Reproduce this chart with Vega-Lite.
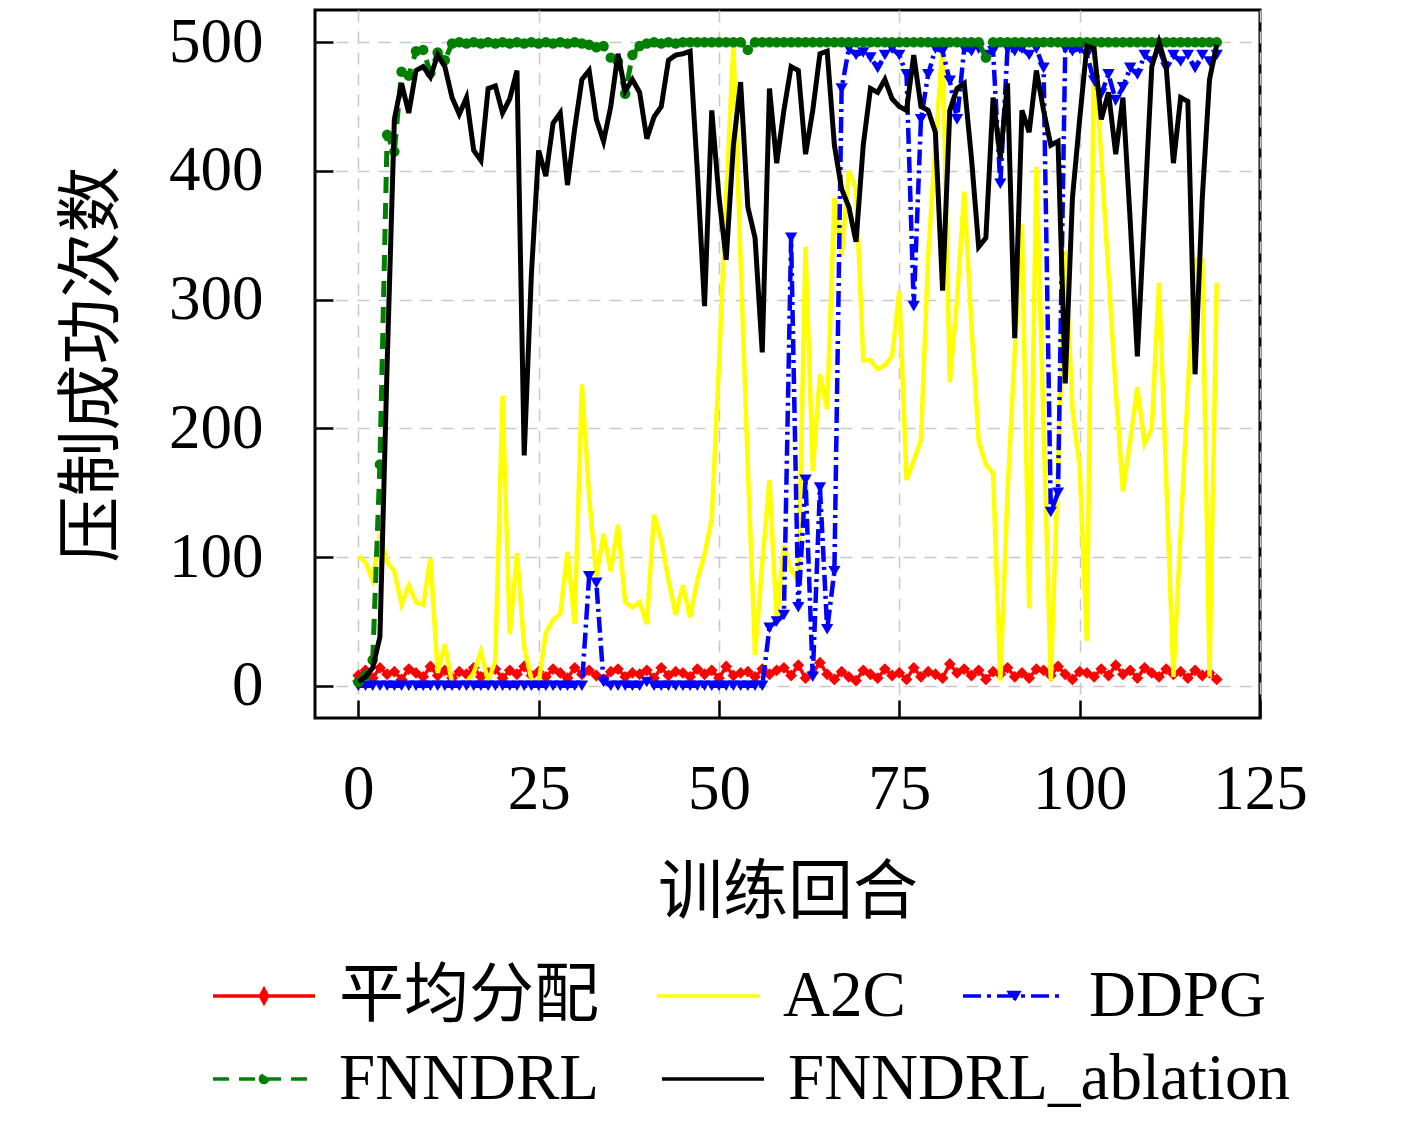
{
  "$schema": "https://vega.github.io/schema/vega-lite/v6.json",
  "width": 945,
  "height": 708,
  "autosize": {"type": "none"},
  "padding": {"left": 315, "top": 10, "right": 157, "bottom": 404},
  "background": "white",
  "config": {
    "font": "Liberation Serif, Noto Sans CJK SC",
    "view": {"stroke": "black", "strokeWidth": 3}
  },
  "data": {"values": [
    {"ep":0,"平均分配":8,"A2C":101,"DDPG":0,"FNNDRL":3,"FNNDRL_ablation":3},
    {"ep":1,"平均分配":12,"A2C":96,"DDPG":0,"FNNDRL":8,"FNNDRL_ablation":7},
    {"ep":2,"平均分配":6,"A2C":82,"DDPG":0,"FNNDRL":20,"FNNDRL_ablation":14},
    {"ep":3,"平均分配":14,"A2C":118,"DDPG":0,"FNNDRL":172,"FNNDRL_ablation":38},
    {"ep":4,"平均分配":9,"A2C":96,"DDPG":0,"FNNDRL":428,"FNNDRL_ablation":250},
    {"ep":5,"平均分配":11,"A2C":89,"DDPG":0,"FNNDRL":415,"FNNDRL_ablation":440},
    {"ep":6,"平均分配":5,"A2C":63,"DDPG":0,"FNNDRL":477,"FNNDRL_ablation":468},
    {"ep":7,"平均分配":13,"A2C":78,"DDPG":0,"FNNDRL":474,"FNNDRL_ablation":445},
    {"ep":8,"平均分配":10,"A2C":65,"DDPG":0,"FNNDRL":493,"FNNDRL_ablation":478},
    {"ep":9,"平均分配":7,"A2C":63,"DDPG":0,"FNNDRL":494,"FNNDRL_ablation":481},
    {"ep":10,"平均分配":15,"A2C":99,"DDPG":0,"FNNDRL":476,"FNNDRL_ablation":473},
    {"ep":11,"平均分配":8,"A2C":10,"DDPG":0,"FNNDRL":492,"FNNDRL_ablation":490},
    {"ep":12,"平均分配":12,"A2C":32,"DDPG":0,"FNNDRL":486,"FNNDRL_ablation":481},
    {"ep":13,"平均分配":6,"A2C":2,"DDPG":0,"FNNDRL":499,"FNNDRL_ablation":457},
    {"ep":14,"平均分配":11,"A2C":2,"DDPG":0,"FNNDRL":500,"FNNDRL_ablation":444},
    {"ep":15,"平均分配":9,"A2C":3,"DDPG":0,"FNNDRL":499,"FNNDRL_ablation":457},
    {"ep":16,"平均分配":14,"A2C":10,"DDPG":0,"FNNDRL":500,"FNNDRL_ablation":416},
    {"ep":17,"平均分配":7,"A2C":27,"DDPG":0,"FNNDRL":499,"FNNDRL_ablation":408},
    {"ep":18,"平均分配":10,"A2C":3,"DDPG":0,"FNNDRL":500,"FNNDRL_ablation":464},
    {"ep":19,"平均分配":13,"A2C":20,"DDPG":0,"FNNDRL":499,"FNNDRL_ablation":466},
    {"ep":20,"平均分配":6,"A2C":225,"DDPG":0,"FNNDRL":500,"FNNDRL_ablation":445},
    {"ep":21,"平均分配":12,"A2C":40,"DDPG":0,"FNNDRL":499,"FNNDRL_ablation":456},
    {"ep":22,"平均分配":9,"A2C":103,"DDPG":0,"FNNDRL":500,"FNNDRL_ablation":478},
    {"ep":23,"平均分配":15,"A2C":30,"DDPG":0,"FNNDRL":499,"FNNDRL_ablation":179},
    {"ep":24,"平均分配":8,"A2C":5,"DDPG":0,"FNNDRL":500,"FNNDRL_ablation":320},
    {"ep":25,"平均分配":11,"A2C":2,"DDPG":0,"FNNDRL":499,"FNNDRL_ablation":416},
    {"ep":26,"平均分配":7,"A2C":41,"DDPG":0,"FNNDRL":500,"FNNDRL_ablation":396},
    {"ep":27,"平均分配":13,"A2C":51,"DDPG":0,"FNNDRL":499,"FNNDRL_ablation":437},
    {"ep":28,"平均分配":10,"A2C":56,"DDPG":0,"FNNDRL":500,"FNNDRL_ablation":445},
    {"ep":29,"平均分配":6,"A2C":104,"DDPG":0,"FNNDRL":499,"FNNDRL_ablation":389},
    {"ep":30,"平均分配":14,"A2C":48,"DDPG":0,"FNNDRL":500,"FNNDRL_ablation":433},
    {"ep":31,"平均分配":9,"A2C":234,"DDPG":0,"FNNDRL":499,"FNNDRL_ablation":471},
    {"ep":32,"平均分配":12,"A2C":147,"DDPG":85,"FNNDRL":498,"FNNDRL_ablation":478},
    {"ep":33,"平均分配":8,"A2C":85,"DDPG":80,"FNNDRL":496,"FNNDRL_ablation":440},
    {"ep":34,"平均分配":5,"A2C":118,"DDPG":3,"FNNDRL":497,"FNNDRL_ablation":423},
    {"ep":35,"平均分配":11,"A2C":89,"DDPG":0,"FNNDRL":488,"FNNDRL_ablation":450},
    {"ep":36,"平均分配":13,"A2C":125,"DDPG":0,"FNNDRL":485,"FNNDRL_ablation":491},
    {"ep":37,"平均分配":7,"A2C":65,"DDPG":0,"FNNDRL":460,"FNNDRL_ablation":462},
    {"ep":38,"平均分配":10,"A2C":61,"DDPG":0,"FNNDRL":490,"FNNDRL_ablation":471},
    {"ep":39,"平均分配":9,"A2C":65,"DDPG":0,"FNNDRL":497,"FNNDRL_ablation":461},
    {"ep":40,"平均分配":12,"A2C":48,"DDPG":3,"FNNDRL":499,"FNNDRL_ablation":425},
    {"ep":41,"平均分配":6,"A2C":133,"DDPG":0,"FNNDRL":500,"FNNDRL_ablation":442},
    {"ep":42,"平均分配":14,"A2C":113,"DDPG":0,"FNNDRL":499,"FNNDRL_ablation":450},
    {"ep":43,"平均分配":8,"A2C":82,"DDPG":0,"FNNDRL":500,"FNNDRL_ablation":486},
    {"ep":44,"平均分配":11,"A2C":55,"DDPG":0,"FNNDRL":499,"FNNDRL_ablation":490},
    {"ep":45,"平均分配":10,"A2C":78,"DDPG":0,"FNNDRL":500,"FNNDRL_ablation":491},
    {"ep":46,"平均分配":7,"A2C":53,"DDPG":0,"FNNDRL":500,"FNNDRL_ablation":493},
    {"ep":47,"平均分配":13,"A2C":82,"DDPG":0,"FNNDRL":500,"FNNDRL_ablation":400},
    {"ep":48,"平均分配":9,"A2C":102,"DDPG":0,"FNNDRL":500,"FNNDRL_ablation":295},
    {"ep":49,"平均分配":12,"A2C":130,"DDPG":0,"FNNDRL":500,"FNNDRL_ablation":447},
    {"ep":50,"平均分配":6,"A2C":250,"DDPG":0,"FNNDRL":500,"FNNDRL_ablation":380},
    {"ep":51,"平均分配":15,"A2C":380,"DDPG":0,"FNNDRL":500,"FNNDRL_ablation":331},
    {"ep":52,"平均分配":8,"A2C":498,"DDPG":0,"FNNDRL":500,"FNNDRL_ablation":420},
    {"ep":53,"平均分配":10,"A2C":330,"DDPG":0,"FNNDRL":500,"FNNDRL_ablation":469},
    {"ep":54,"平均分配":11,"A2C":170,"DDPG":0,"FNNDRL":494,"FNNDRL_ablation":372},
    {"ep":55,"平均分配":7,"A2C":24,"DDPG":0,"FNNDRL":500,"FNNDRL_ablation":348},
    {"ep":56,"平均分配":13,"A2C":95,"DDPG":0,"FNNDRL":500,"FNNDRL_ablation":259},
    {"ep":57,"平均分配":9,"A2C":160,"DDPG":45,"FNNDRL":500,"FNNDRL_ablation":464},
    {"ep":58,"平均分配":12,"A2C":51,"DDPG":50,"FNNDRL":500,"FNNDRL_ablation":406},
    {"ep":59,"平均分配":14,"A2C":109,"DDPG":55,"FNNDRL":500,"FNNDRL_ablation":447},
    {"ep":60,"平均分配":8,"A2C":90,"DDPG":348,"FNNDRL":500,"FNNDRL_ablation":481},
    {"ep":61,"平均分配":16,"A2C":82,"DDPG":61,"FNNDRL":500,"FNNDRL_ablation":478},
    {"ep":62,"平均分配":6,"A2C":341,"DDPG":160,"FNNDRL":500,"FNNDRL_ablation":413},
    {"ep":63,"平均分配":10,"A2C":167,"DDPG":7,"FNNDRL":500,"FNNDRL_ablation":447},
    {"ep":64,"平均分配":18,"A2C":242,"DDPG":154,"FNNDRL":500,"FNNDRL_ablation":491},
    {"ep":65,"平均分配":9,"A2C":215,"DDPG":44,"FNNDRL":500,"FNNDRL_ablation":493},
    {"ep":66,"平均分配":5,"A2C":379,"DDPG":89,"FNNDRL":500,"FNNDRL_ablation":420},
    {"ep":67,"平均分配":11,"A2C":334,"DDPG":464,"FNNDRL":500,"FNNDRL_ablation":386},
    {"ep":68,"平均分配":7,"A2C":400,"DDPG":495,"FNNDRL":500,"FNNDRL_ablation":372},
    {"ep":69,"平均分配":4,"A2C":386,"DDPG":490,"FNNDRL":500,"FNNDRL_ablation":345},
    {"ep":70,"平均分配":12,"A2C":253,"DDPG":492,"FNNDRL":500,"FNNDRL_ablation":420},
    {"ep":71,"平均分配":9,"A2C":253,"DDPG":488,"FNNDRL":500,"FNNDRL_ablation":464},
    {"ep":72,"平均分配":6,"A2C":246,"DDPG":480,"FNNDRL":500,"FNNDRL_ablation":461},
    {"ep":73,"平均分配":13,"A2C":249,"DDPG":490,"FNNDRL":500,"FNNDRL_ablation":471},
    {"ep":74,"平均分配":8,"A2C":256,"DDPG":495,"FNNDRL":500,"FNNDRL_ablation":456},
    {"ep":75,"平均分配":10,"A2C":307,"DDPG":490,"FNNDRL":500,"FNNDRL_ablation":450},
    {"ep":76,"平均分配":5,"A2C":160,"DDPG":475,"FNNDRL":500,"FNNDRL_ablation":447},
    {"ep":77,"平均分配":14,"A2C":175,"DDPG":295,"FNNDRL":500,"FNNDRL_ablation":490},
    {"ep":78,"平均分配":7,"A2C":191,"DDPG":440,"FNNDRL":500,"FNNDRL_ablation":450},
    {"ep":79,"平均分配":11,"A2C":334,"DDPG":475,"FNNDRL":500,"FNNDRL_ablation":447},
    {"ep":80,"平均分配":9,"A2C":420,"DDPG":495,"FNNDRL":500,"FNNDRL_ablation":430},
    {"ep":81,"平均分配":6,"A2C":498,"DDPG":493,"FNNDRL":500,"FNNDRL_ablation":307},
    {"ep":82,"平均分配":17,"A2C":236,"DDPG":470,"FNNDRL":500,"FNNDRL_ablation":447},
    {"ep":83,"平均分配":10,"A2C":300,"DDPG":440,"FNNDRL":500,"FNNDRL_ablation":464},
    {"ep":84,"平均分配":13,"A2C":384,"DDPG":495,"FNNDRL":500,"FNNDRL_ablation":468},
    {"ep":85,"平均分配":8,"A2C":280,"DDPG":493,"FNNDRL":500,"FNNDRL_ablation":410},
    {"ep":86,"平均分配":12,"A2C":190,"DDPG":495,"FNNDRL":500,"FNNDRL_ablation":341},
    {"ep":87,"平均分配":5,"A2C":172,"DDPG":490,"FNNDRL":488,"FNNDRL_ablation":348},
    {"ep":88,"平均分配":11,"A2C":165,"DDPG":493,"FNNDRL":500,"FNNDRL_ablation":457},
    {"ep":89,"平均分配":9,"A2C":4,"DDPG":390,"FNNDRL":500,"FNNDRL_ablation":410},
    {"ep":90,"平均分配":14,"A2C":150,"DDPG":495,"FNNDRL":500,"FNNDRL_ablation":468},
    {"ep":91,"平均分配":7,"A2C":260,"DDPG":493,"FNNDRL":500,"FNNDRL_ablation":270},
    {"ep":92,"平均分配":10,"A2C":359,"DDPG":495,"FNNDRL":500,"FNNDRL_ablation":447},
    {"ep":93,"平均分配":6,"A2C":60,"DDPG":490,"FNNDRL":500,"FNNDRL_ablation":430},
    {"ep":94,"平均分配":13,"A2C":403,"DDPG":495,"FNNDRL":500,"FNNDRL_ablation":478},
    {"ep":95,"平均分配":12,"A2C":200,"DDPG":480,"FNNDRL":500,"FNNDRL_ablation":447},
    {"ep":96,"平均分配":8,"A2C":4,"DDPG":135,"FNNDRL":500,"FNNDRL_ablation":420},
    {"ep":97,"平均分配":15,"A2C":170,"DDPG":150,"FNNDRL":500,"FNNDRL_ablation":423},
    {"ep":98,"平均分配":9,"A2C":338,"DDPG":495,"FNNDRL":500,"FNNDRL_ablation":235},
    {"ep":99,"平均分配":5,"A2C":215,"DDPG":493,"FNNDRL":500,"FNNDRL_ablation":379},
    {"ep":100,"平均分配":11,"A2C":170,"DDPG":495,"FNNDRL":500,"FNNDRL_ablation":440},
    {"ep":101,"平均分配":10,"A2C":35,"DDPG":490,"FNNDRL":500,"FNNDRL_ablation":497},
    {"ep":102,"平均分配":7,"A2C":498,"DDPG":470,"FNNDRL":500,"FNNDRL_ablation":495},
    {"ep":103,"平均分配":13,"A2C":410,"DDPG":460,"FNNDRL":500,"FNNDRL_ablation":440},
    {"ep":104,"平均分配":8,"A2C":320,"DDPG":475,"FNNDRL":500,"FNNDRL_ablation":461},
    {"ep":105,"平均分配":16,"A2C":230,"DDPG":455,"FNNDRL":500,"FNNDRL_ablation":413},
    {"ep":106,"平均分配":9,"A2C":151,"DDPG":465,"FNNDRL":500,"FNNDRL_ablation":457},
    {"ep":107,"平均分配":12,"A2C":190,"DDPG":480,"FNNDRL":500,"FNNDRL_ablation":362},
    {"ep":108,"平均分配":6,"A2C":232,"DDPG":475,"FNNDRL":500,"FNNDRL_ablation":256},
    {"ep":109,"平均分配":14,"A2C":188,"DDPG":490,"FNNDRL":500,"FNNDRL_ablation":368},
    {"ep":110,"平均分配":10,"A2C":200,"DDPG":485,"FNNDRL":500,"FNNDRL_ablation":481},
    {"ep":111,"平均分配":7,"A2C":313,"DDPG":495,"FNNDRL":500,"FNNDRL_ablation":500},
    {"ep":112,"平均分配":13,"A2C":160,"DDPG":480,"FNNDRL":500,"FNNDRL_ablation":481},
    {"ep":113,"平均分配":9,"A2C":7,"DDPG":490,"FNNDRL":500,"FNNDRL_ablation":406},
    {"ep":114,"平均分配":11,"A2C":120,"DDPG":485,"FNNDRL":500,"FNNDRL_ablation":457},
    {"ep":115,"平均分配":6,"A2C":230,"DDPG":490,"FNNDRL":500,"FNNDRL_ablation":454},
    {"ep":116,"平均分配":12,"A2C":331,"DDPG":480,"FNNDRL":500,"FNNDRL_ablation":242},
    {"ep":117,"平均分配":8,"A2C":331,"DDPG":490,"FNNDRL":500,"FNNDRL_ablation":379},
    {"ep":118,"平均分配":10,"A2C":7,"DDPG":485,"FNNDRL":500,"FNNDRL_ablation":471},
    {"ep":119,"平均分配":5,"A2C":313,"DDPG":490,"FNNDRL":500,"FNNDRL_ablation":498}
  ]},
  "transform": [
    {"fold": ["平均分配", "A2C", "DDPG", "FNNDRL", "FNNDRL_ablation"], "as": ["series", "v"]}
  ],
  "encoding": {
    "x": {
      "field": "ep", "type": "quantitative",
      "scale": {"domain": [-6, 125], "nice": false, "zero": false},
      "axis": {
        "values": [0, 25, 50, 75, 100, 125],
        "title": "训练回合",
        "domain": false,
        "grid": true, "gridDash": [12, 9], "gridColor": "#c8c8c8", "gridWidth": 1.5,
        "tickSize": -18, "tickWidth": 2.5, "tickColor": "black",
        "labelFontSize": 63, "labelColor": "black", "labelPadding": 58,
        "labelFlush": false, "labelOverlap": false, "labelBound": false,
        "titleFontSize": 65, "titleFontWeight": "normal", "titleColor": "black", "titlePadding": 40
      }
    },
    "y": {
      "field": "v", "type": "quantitative",
      "scale": {"domain": [-25, 525], "nice": false, "zero": false},
      "axis": {
        "values": [0, 100, 200, 300, 400, 500],
        "title": "压制成功次数",
        "domain": false,
        "grid": true, "gridDash": [12, 9], "gridColor": "#c8c8c8", "gridWidth": 1.5,
        "tickSize": -18, "tickWidth": 2.5, "tickColor": "black",
        "labelFontSize": 63, "labelColor": "black", "labelPadding": 70,
        "labelOverlap": false, "labelFlush": false,
        "titleFontSize": 66, "titleFontWeight": "normal", "titleColor": "black", "titlePadding": 42
      }
    },
    "color": {
      "field": "series", "type": "nominal",
      "scale": {
        "domain": ["平均分配", "A2C", "DDPG", "FNNDRL", "FNNDRL_ablation"],
        "range": ["#ff0000", "#ffff00", "#0000ff", "#008000", "#000000"]
      },
      "legend": {
        "title": null,
        "values": ["平均分配", "A2C", "DDPG"],
        "orient": "none",
        "legendX": -104,
        "legendY": 933,
        "direction": "horizontal",
        "columns": 3,
        "columnPadding": 50,
        "padding": 0,
        "labelFontSize": 65,
        "labelColor": "black",
        "labelLimit": 1000,
        "labelOffset": 22,
        "symbolSize": 10404,
        "symbolStrokeWidth": 3.5,
        "encode": {
          "symbols": {
            "update": {
              "shape": {"signal": "datum.value === '平均分配' ? 'M-1,0L1,0M0,-0.13L0.07,0L0,0.13L-0.07,0Z' : datum.value === 'DDPG' ? 'M-1,0L1,0M-0.09,-0.07L0.09,-0.07L0,0.09Z' : datum.value === 'FNNDRL' ? 'M-1,0L1,0M0.07,0A0.07,0.07,0,1,1,-0.07,0A0.07,0.07,0,1,1,0.07,0Z' : 'M-1,0L1,0'"},
              "stroke": {"signal": "datum.value === '平均分配' ? '#ff0000' : datum.value === 'A2C' ? '#ffff00' : datum.value === 'DDPG' ? '#0000ff' : datum.value === 'FNNDRL' ? '#008000' : '#000000'"},
              "fill": {"signal": "datum.value === '平均分配' ? '#ff0000' : datum.value === 'DDPG' ? '#0000ff' : datum.value === 'FNNDRL' ? '#008000' : 'transparent'"},
              "fillOpacity": {"value": 1},
              "strokeOpacity": {"value": 1},
              "strokeDash": {"signal": "datum.value === 'FNNDRL' ? [18, 11] : datum.value === 'DDPG' ? [18, 6, 4, 6] : [1, 0]"},
              "strokeWidth": {"value": 3.5}
            }
          }
        }
      }
    },
    "strokeDash": {
      "field": "series", "type": "nominal",
      "scale": {
        "domain": ["FNNDRL", "FNNDRL_ablation", "平均分配", "A2C", "DDPG"],
        "range": [[16, 10], [1, 0], [1, 0], [1, 0], [16, 5, 3, 5]]
      },
      "legend": {
        "title": null,
        "values": ["FNNDRL", "FNNDRL_ablation"],
        "orient": "none",
        "legendX": -104,
        "legendY": 1016,
        "direction": "horizontal",
        "columns": 2,
        "columnPadding": 55,
        "padding": 0,
        "labelFontSize": 65,
        "labelColor": "black",
        "labelLimit": 1000,
        "labelOffset": 22,
        "symbolSize": 10404,
        "symbolStrokeWidth": 3.5,
        "encode": {
          "symbols": {
            "update": {
              "shape": {"signal": "datum.value === '平均分配' ? 'M-1,0L1,0M0,-0.13L0.07,0L0,0.13L-0.07,0Z' : datum.value === 'DDPG' ? 'M-1,0L1,0M-0.09,-0.07L0.09,-0.07L0,0.09Z' : datum.value === 'FNNDRL' ? 'M-1,0L1,0M0.07,0A0.07,0.07,0,1,1,-0.07,0A0.07,0.07,0,1,1,0.07,0Z' : 'M-1,0L1,0'"},
              "stroke": {"signal": "datum.value === '平均分配' ? '#ff0000' : datum.value === 'A2C' ? '#ffff00' : datum.value === 'DDPG' ? '#0000ff' : datum.value === 'FNNDRL' ? '#008000' : '#000000'"},
              "fill": {"signal": "datum.value === '平均分配' ? '#ff0000' : datum.value === 'DDPG' ? '#0000ff' : datum.value === 'FNNDRL' ? '#008000' : 'transparent'"},
              "fillOpacity": {"value": 1},
              "strokeOpacity": {"value": 1},
              "strokeDash": {"signal": "datum.value === 'FNNDRL' ? [18, 11] : datum.value === 'DDPG' ? [18, 6, 4, 6] : [1, 0]"},
              "strokeWidth": {"value": 3.5}
            }
          }
        }
      }
    }
  },
  "layer": [
    {
      "transform": [{"filter": "datum.series === '平均分配'"}],
      "mark": {"type": "line", "strokeWidth": 3.5}
    },
    {
      "transform": [{"filter": "datum.series === '平均分配'"}],
      "mark": {"type": "point", "filled": true, "shape": "diamond", "size": 140, "opacity": 1},
      "encoding": {"color": {"value": "#ff0000"}, "strokeDash": {"value": [1, 0]}}
    },
    {
      "transform": [{"filter": "datum.series === 'A2C'"}],
      "mark": {"type": "line", "strokeWidth": 4.5}
    },
    {
      "transform": [{"filter": "datum.series === 'DDPG'"}],
      "mark": {"type": "line", "strokeWidth": 4.5}
    },
    {
      "transform": [{"filter": "datum.series === 'DDPG'"}],
      "mark": {"type": "point", "filled": true, "shape": "triangle-down", "size": 150, "opacity": 1},
      "encoding": {"color": {"value": "#0000ff"}, "strokeDash": {"value": [1, 0]}}
    },
    {
      "transform": [{"filter": "datum.series === 'FNNDRL'"}],
      "mark": {"type": "line", "strokeWidth": 5}
    },
    {
      "transform": [{"filter": "datum.series === 'FNNDRL'"}],
      "mark": {"type": "point", "filled": true, "shape": "circle", "size": 110, "opacity": 1},
      "encoding": {"color": {"value": "#008000"}, "strokeDash": {"value": [1, 0]}}
    },
    {
      "transform": [{"filter": "datum.series === 'FNNDRL_ablation'"}],
      "mark": {"type": "line", "strokeWidth": 5}
    }
  ]
}
